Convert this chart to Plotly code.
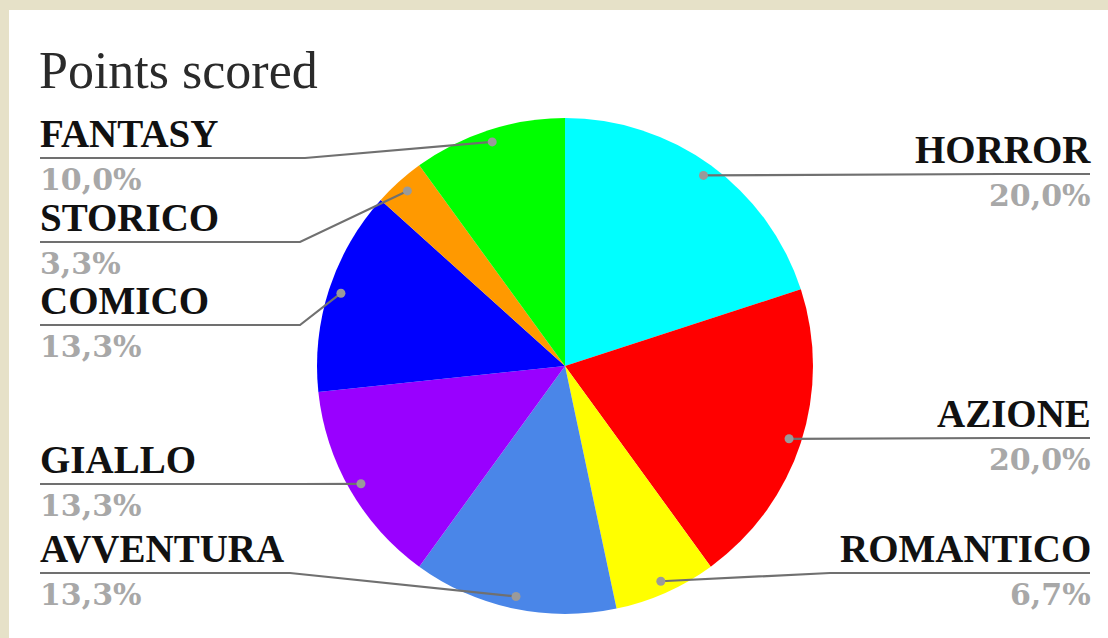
import math
import plotly.graph_objects as go

# ---------------- data ----------------
labels = ["HORROR", "AZIONE", "ROMANTICO", "AVVENTURA", "GIALLO", "COMICO", "STORICO", "FANTASY"]
values = [6, 6, 2, 4, 4, 4, 1, 3]
colors = ["#00ffff", "#ff0000", "#ffff00", "#4a86e8", "#9900ff", "#0000ff", "#ff9900", "#00ff00"]
title_text = "Points scored"

# ---------------- layout constants (pixels) ----------------
W, H = 1108, 638
CX, CY, R = 565, 366, 248
DOT_FRAC = 0.95
DOT_R = 4.5
LEFT_X, RIGHT_X = 40, 1090
TEXT_LEFT_X, TEXT_RIGHT_X = 38, 1093
# label side, underline y, elbow x
label_layout = {
    "HORROR":    ("right", 174, 1000),
    "AZIONE":    ("right", 438, 1000),
    "ROMANTICO": ("right", 573, 830),
    "AVVENTURA": ("left", 573, 290),
    "GIALLO":    ("left", 484, 300),
    "COMICO":    ("left", 325, 300),
    "STORICO":   ("left", 242, 300),
    "FANTASY":   ("left", 158, 305),
}

NAME_FONT = dict(family="Liberation Serif", size=39, color="#111111")
PCT_FONT = dict(family="DejaVu Serif", size=30, color="#a8a8a8")

total = sum(values)

fig = go.Figure()

fig.add_trace(go.Pie(
    labels=labels, values=values, sort=False, direction="clockwise", rotation=0,
    marker=dict(colors=colors, line=dict(width=0)),
    textinfo="none", hoverinfo="label+percent", showlegend=False,
    domain=dict(x=[(CX - R) / W, (CX + R) / W], y=[1 - (CY + R) / H, 1 - (CY - R) / H]),
))
# invisible trace to activate the pixel-space cartesian axes
fig.add_trace(go.Scatter(x=[0, W], y=[0, H], mode="markers", marker=dict(opacity=0),
                         hoverinfo="skip", showlegend=False))

annotations = []
shapes = [
    dict(type="rect", xref="x", yref="y", x0=0, x1=W, y0=0, y1=10,
         fillcolor="#e6e1c8", line=dict(width=0), layer="above"),
    dict(type="rect", xref="x", yref="y", x0=0, x1=9, y0=0, y1=H,
         fillcolor="#e6e1c8", line=dict(width=0), layer="above"),
]
cum = 0
for lab, val in zip(labels, values):
    mid = (cum + val / 2) / total
    cum += val
    th = 2 * math.pi * mid
    dx = CX + DOT_FRAC * R * math.sin(th)
    dy = CY - DOT_FRAC * R * math.cos(th)
    side, uy, ex = label_layout[lab]
    sx = LEFT_X if side == "left" else RIGHT_X
    tx = TEXT_LEFT_X if side == "left" else TEXT_RIGHT_X
    shapes.append(dict(type="path", xref="x", yref="y", layer="above",
                       path=f"M {sx},{uy} L {ex},{uy} L {dx:.2f},{dy:.2f}",
                       line=dict(color="#707070", width=2.2)))
    shapes.append(dict(type="circle", xref="x", yref="y", layer="above",
                       x0=dx - DOT_R, x1=dx + DOT_R, y0=dy - DOT_R, y1=dy + DOT_R,
                       fillcolor="#9a9a9a", line=dict(width=0)))
    pct = f"{100 * val / total:.1f}".replace(".", ",") + "%"
    xa = "left" if side == "left" else "right"
    annotations.append(dict(x=tx, y=uy - 1, xref="x", yref="y", text=f"<b>{lab}</b>",
                            showarrow=False, xanchor=xa, yanchor="bottom", font=NAME_FONT))
    annotations.append(dict(x=tx, y=uy + 2, xref="x", yref="y", text=f"<b>{pct}</b>",
                            showarrow=False, xanchor=xa, yanchor="top", font=PCT_FONT))

annotations.append(dict(x=37, y=40, xref="x", yref="y", text=title_text, showarrow=False,
                        xanchor="left", yanchor="top",
                        font=dict(family="Liberation Serif", size=52, color="#2a2a2a")))

fig.update_layout(
    width=W, height=H, margin=dict(l=0, r=0, t=0, b=0),
    paper_bgcolor="white", plot_bgcolor="rgba(0,0,0,0)",
    xaxis=dict(range=[0, W], visible=False, fixedrange=True, domain=[0, 1]),
    yaxis=dict(range=[H, 0], visible=False, fixedrange=True, domain=[0, 1]),
    annotations=annotations,
    shapes=shapes,
)

fig.write_html("out.html", config={"displayModeBar": False},
               post_script="document.body.style.margin='0';")
